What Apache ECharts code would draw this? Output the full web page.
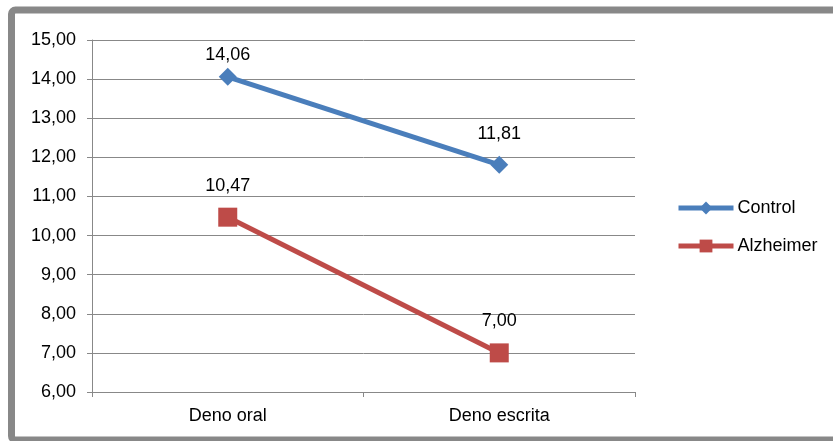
<!DOCTYPE html>
<html>
<head>
<meta charset="utf-8">
<script src="https://cdn.jsdelivr.net/npm/echarts@6/dist/echarts.min.js"></script>
<style>
  html, body { margin: 0; padding: 0; background: #fff; }
  #chart { width: 833px; height: 441px; }
</style>
</head>
<body>
<div id="chart"></div>
<script>
// Categories and series values
const categories = ['Deno oral', 'Deno escrita'];
const controlValues = [14.06, 11.81];
const alzheimerValues = [10.47, 7.00];
const seriesNames = ['Control', 'Alzheimer'];

const fmt = v => v.toFixed(2).replace('.', ',');
const font = '"Liberation Sans", Arial, sans-serif';

// The top-left label sits closer to its point so it stays inside the plot
const labelGap = (seriesIdx, i) => (seriesIdx === 0 && i === 0 ? 4 : 13);
const toItems = (values, seriesIdx) =>
  values.map((v, i) => ({ value: v, label: { distance: labelGap(seriesIdx, i) } }));

const chart = echarts.init(document.getElementById('chart'), null, { renderer: 'canvas' });

chart.setOption({
  animation: false,
  backgroundColor: '#fff',
  graphic: [{
    type: 'rect',
    shape: { x: 11.5, y: 10, width: 830, height: 430, r: 4 },
    style: { fill: null, stroke: '#888888', lineWidth: 7 },
    z: -1
  }],
  grid: { left: 92, right: 198, top: 40, bottom: 49 },
  legend: {
    orient: 'vertical',
    left: 676,
    top: 199,
    padding: 0,
    itemWidth: 55,
    itemHeight: 16,
    itemGap: 20,
    lineStyle: { width: 5 },
    textStyle: { fontFamily: font, fontSize: 18, color: '#000', padding: [0, 0, 0, -1] },
    data: seriesNames
  },
  xAxis: {
    type: 'category',
    data: categories,
    boundaryGap: true,
    axisLine: { lineStyle: { color: '#888', width: 1 } },
    axisTick: { show: true, length: 5, lineStyle: { color: '#888' } },
    axisLabel: { fontFamily: font, fontSize: 18, color: '#000', margin: 15 }
  },
  yAxis: {
    type: 'value',
    min: 6,
    max: 15,
    interval: 1,
    axisLine: { show: true, lineStyle: { color: '#888', width: 1 } },
    axisTick: { show: true, length: 5, lineStyle: { color: '#888' } },
    splitLine: { show: true, lineStyle: { color: '#888', width: 1 } },
    axisLabel: { fontFamily: font, fontSize: 18, color: '#000', margin: 16, formatter: fmt }
  },
  series: [
    {
      name: seriesNames[0],
      type: 'line',
      data: toItems(controlValues, 0),
      symbol: 'diamond',
      symbolSize: 18,
      color: '#4A7EBB',
      lineStyle: { width: 5, color: '#4A7EBB' },
      itemStyle: { color: '#4A7EBB' },
      label: {
        show: true, position: 'top',
        fontFamily: font, fontSize: 18, color: '#000',
        formatter: p => fmt(p.value)
      }
    },
    {
      name: seriesNames[1],
      type: 'line',
      data: toItems(alzheimerValues, 1),
      symbol: 'rect',
      symbolSize: 19,
      color: '#BE4B48',
      lineStyle: { width: 5, color: '#BE4B48' },
      itemStyle: { color: '#BE4B48' },
      label: {
        show: true, position: 'top',
        fontFamily: font, fontSize: 18, color: '#000',
        formatter: p => fmt(p.value)
      }
    }
  ]
});
</script>
</body>
</html>
